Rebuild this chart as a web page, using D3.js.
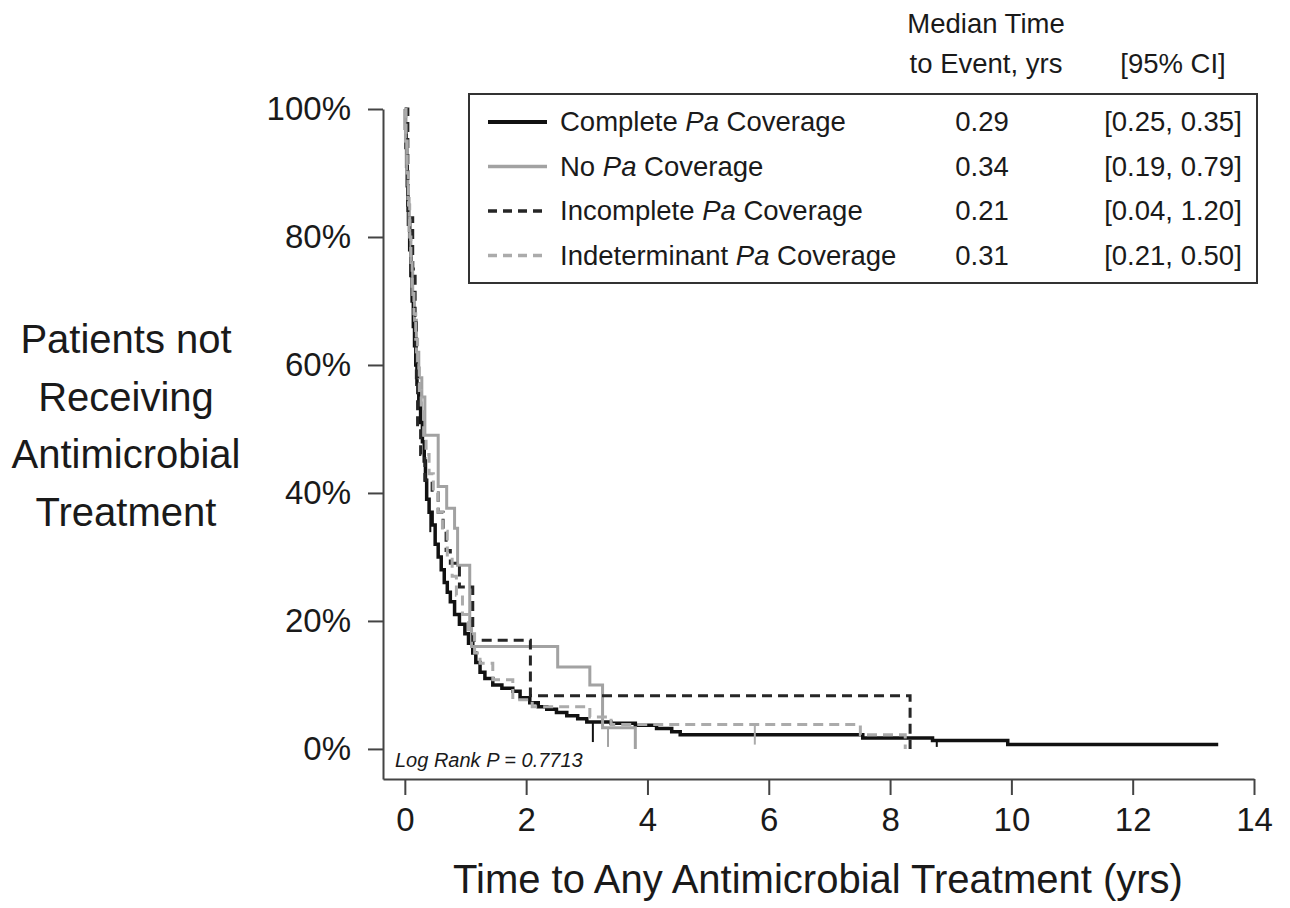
<!DOCTYPE html>
<html>
<head>
<meta charset="utf-8">
<script src="https://cdn.jsdelivr.net/npm/d3@7"></script>
<style>
  body { margin: 0; background: #fff; }
  text { font-family: "Liberation Sans", Arial, sans-serif; fill: #1a1a1a; }
</style>
</head>
<body>
<div id="chart"></div>
<script>
// Kaplan-Meier step points (time in years, fraction not treated)
const completeTime = [0, 0.01, 0.02, 0.03, 0.04, 0.05, 0.06, 0.08, 0.10, 0.12, 0.14, 0.16, 0.18, 0.20, 0.23, 0.26, 0.29, 0.32, 0.34, 0.36, 0.40, 0.45, 0.50, 0.55, 0.60, 0.65, 0.70, 0.75, 0.82, 0.90, 0.99, 1.05, 1.12, 1.17, 1.24, 1.32, 1.45, 1.60, 1.78, 1.90, 2.06, 2.20, 2.34, 2.50, 2.67, 2.85, 3.00, 3.40, 3.80, 4.15, 4.40, 4.54, 7.55, 8.70, 9.94, 13.41];
const completeSurv = [1, 0.97, 0.94, 0.91, 0.88, 0.85, 0.82, 0.78, 0.74, 0.70, 0.66, 0.63, 0.60, 0.57, 0.54, 0.51, 0.48, 0.45, 0.42, 0.39, 0.37, 0.35, 0.32, 0.30, 0.28, 0.26, 0.245, 0.23, 0.21, 0.195, 0.18, 0.165, 0.15, 0.135, 0.12, 0.11, 0.10, 0.095, 0.09, 0.08, 0.072, 0.066, 0.062, 0.057, 0.052, 0.047, 0.042, 0.040, 0.037, 0.032, 0.027, 0.022, 0.017, 0.013, 0.007, 0.007];
const completeCensor = [0.42, 3.1, 8.77];

const noPaTime = [0, 0.01, 0.03, 0.05, 0.07, 0.10, 0.13, 0.16, 0.19, 0.23, 0.28, 0.33, 0.55, 0.69, 0.82, 0.87, 1.07, 1.10, 2.52, 3.05, 3.26, 3.80];
const noPaSurv = [1, 0.95, 0.90, 0.86, 0.81, 0.76, 0.71, 0.67, 0.62, 0.58, 0.55, 0.49, 0.41, 0.376, 0.345, 0.287, 0.20, 0.16, 0.128, 0.10, 0.033, 0];
const noPaCensor = [3.35];

const incompleteTime = [0, 0.05, 0.13, 0.17, 0.19, 0.21, 0.26, 0.33, 0.45, 0.55, 0.63, 0.68, 0.75, 0.90, 1.12, 2.07, 8.33];
const incompleteSurv = [1, 0.83, 0.75, 0.67, 0.58, 0.50, 0.46, 0.42, 0.40, 0.37, 0.34, 0.31, 0.29, 0.253, 0.17, 0.083, 0];
const incompleteCensor = [];

const indetTime = [0, 0.02, 0.04, 0.06, 0.08, 0.10, 0.12, 0.15, 0.18, 0.21, 0.24, 0.27, 0.31, 0.35, 0.40, 0.47, 0.55, 0.62, 0.70, 0.78, 0.85, 0.95, 1.05, 1.15, 1.24, 1.45, 1.78, 2.10, 3.05, 3.40, 7.51, 8.25];
const indetSurv = [1, 0.95, 0.90, 0.85, 0.80, 0.76, 0.72, 0.68, 0.64, 0.60, 0.56, 0.53, 0.49, 0.46, 0.43, 0.40, 0.37, 0.34, 0.30, 0.27, 0.24, 0.21, 0.18, 0.15, 0.134, 0.108, 0.077, 0.066, 0.05, 0.038, 0.022, 0];
const indetCensor = [5.77];

const groupNames = ["Complete", "No", "Incomplete", "Indeterminant"];
const medianTimes = ["0.29", "0.34", "0.21", "0.31"];
const confIntervals = ["[0.25, 0.35]", "[0.19, 0.79]", "[0.04, 1.20]", "[0.21, 0.50]"];
const xTicks = [0, 2, 4, 6, 8, 10, 12, 14];
const yTicks = [0, 0.2, 0.4, 0.6, 0.8, 1];

const series = [
    {time: completeTime, surv: completeSurv, censor: completeCensor, color: "#111", dash: null, width: 3.5},
    {time: noPaTime, surv: noPaSurv, censor: noPaCensor, color: "#a2a2a2", dash: null, width: 3},
    {time: incompleteTime, surv: incompleteSurv, censor: incompleteCensor, color: "#262626", dash: "10,6", width: 3},
    {time: indetTime, surv: indetSurv, censor: indetCensor, color: "#ababab", dash: "10,6", width: 3}
];

const width = 1290, height = 908;
const svg = d3.select("#chart").append("svg")
    .attr("width", width)
    .attr("height", height);

const x = d3.scaleLinear().domain([-0.36, 14]).range([383, 1254]);
const y = d3.scaleLinear().domain([-0.047, 1]).range([779, 109]);

// Axes
const xAxis = svg.append("g")
    .attr("transform", "translate(0,779)")
    .call(d3.axisBottom(x).tickValues(xTicks).tickSize(16).tickSizeOuter(0).tickPadding(13));
const yAxis = svg.append("g")
    .attr("transform", "translate(383,0)")
    .call(d3.axisLeft(y).tickValues(yTicks).tickFormat(d3.format(".0%")).tickSize(15).tickSizeOuter(0).tickPadding(17));

[xAxis, yAxis].forEach(g => {
    g.select(".domain").attr("stroke", "#444").attr("stroke-width", 2);
    g.selectAll(".tick line").attr("stroke", "#444").attr("stroke-width", 2);
    g.selectAll(".tick text").attr("font-size", 33).attr("fill", "#1a1a1a")
        .style("font-family", "'Liberation Sans', Arial, sans-serif");
});

// Curves
const line = d3.line()
    .x(d => x(d[0]))
    .y(d => y(d[1]))
    .curve(d3.curveStepAfter);

function survAt(s, t) {
    let v = s.surv[0];
    s.time.forEach((tt, i) => { if (tt <= t) v = s.surv[i]; });
    return v;
}

series.forEach(s => {
    const pts = s.time.map((t, i) => [t, s.surv[i]]);
    svg.append("path")
        .datum(pts)
        .attr("d", line)
        .attr("fill", "none")
        .attr("stroke", s.color)
        .attr("stroke-width", s.width)
        .attr("stroke-dasharray", s.dash);
    // censor marks hang below the curve, stopping just under the 0% line
    svg.selectAll(null)
        .data(s.censor)
        .enter()
        .append("line")
        .attr("x1", d => x(d))
        .attr("x2", d => x(d))
        .attr("y1", d => y(survAt(s, d)))
        .attr("y2", d => Math.min(y(survAt(s, d)) + 20, y(0) - 2))
        .attr("stroke", s.color)
        .attr("stroke-width", 2);
});

// Log rank note
svg.append("text")
    .attr("x", 395)
    .attr("y", 767)
    .attr("font-size", 20)
    .attr("font-style", "italic")
    .attr("fill", "#333")
    .text("Log Rank P = 0.7713");

// Axis titles
svg.append("text")
    .attr("x", 818)
    .attr("y", 893)
    .attr("text-anchor", "middle")
    .attr("font-size", 40)
    .text("Time to Any Antimicrobial Treatment (yrs)");

const yTitle = ["Patients not", "Receiving", "Antimicrobial", "Treatment"];
svg.append("text")
    .attr("text-anchor", "middle")
    .attr("font-size", 40)
    .selectAll("tspan")
    .data(yTitle)
    .enter()
    .append("tspan")
    .attr("x", 126)
    .attr("y", (d, i) => 353 + i * 57.5)
    .text(d => d);

// Legend table
const headerMedian = ["Median Time", "to Event, yrs"];
svg.selectAll(".hdr")
    .data(headerMedian)
    .enter()
    .append("text")
    .attr("x", 986)
    .attr("y", (d, i) => 33 + i * 40)
    .attr("text-anchor", "middle")
    .attr("font-size", 27.5)
    .text(d => d);
svg.append("text")
    .attr("x", 1173)
    .attr("y", 73)
    .attr("text-anchor", "middle")
    .attr("font-size", 27.5)
    .text("[95% CI]");

svg.append("rect")
    .attr("x", 469)
    .attr("y", 94)
    .attr("width", 788)
    .attr("height", 189)
    .attr("fill", "none")
    .attr("stroke", "#333")
    .attr("stroke-width", 2);

const rowY = i => 131 + i * 44.5;
series.forEach((s, i) => {
    svg.append("line")
        .attr("x1", 488).attr("x2", 547)
        .attr("y1", rowY(i) - 9).attr("y2", rowY(i) - 9)
        .attr("stroke", s.color)
        .attr("stroke-width", i === 0 ? 4 : 3.5)
        .attr("stroke-dasharray", s.dash ? "9,6" : null);
    const t = svg.append("text")
        .attr("x", 560)
        .attr("y", rowY(i))
        .attr("font-size", 27.5);
    t.append("tspan").text(groupNames[i] + " ");
    t.append("tspan").attr("font-style", "italic").text("Pa");
    t.append("tspan").text(" Coverage");
    svg.append("text")
        .attr("x", 982)
        .attr("y", rowY(i))
        .attr("text-anchor", "middle")
        .attr("font-size", 27.5)
        .text(medianTimes[i]);
    svg.append("text")
        .attr("x", 1173)
        .attr("y", rowY(i))
        .attr("text-anchor", "middle")
        .attr("font-size", 27.5)
        .text(confIntervals[i]);
});
</script>
</body>
</html>
